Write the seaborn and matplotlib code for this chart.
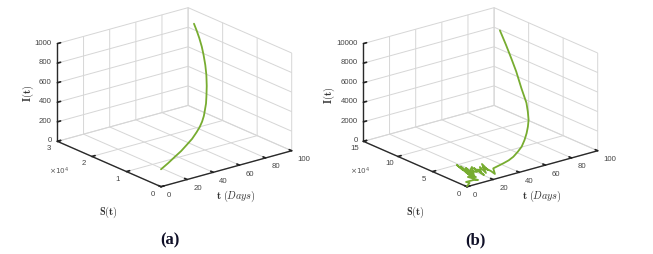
import seaborn as sns
import matplotlib.pyplot as plt
from mpl_toolkits.mplot3d import proj3d

# curve (a)
t_a = [0, 6, 12, 17, 22, 27.5, 33, 37.5, 42, 46, 50, 54, 58, 63, 68, 73, 78, 83.5, 89, 94.5, 100]
s_a = [0, 0.02, 0.05, 0.06, 0.09, 0.14, 0.22, 0.30, 0.40, 0.50, 0.62, 0.74, 0.88, 1.06, 1.26, 1.48, 1.72, 1.98,
       2.26, 2.54, 2.83]
i_a = [178, 216, 255, 293, 332, 367, 401, 425, 449, 477, 506, 538, 572, 635, 699, 747, 796, 820, 844, 853, 862]

# curve (b), noisy at the start
t_b = [0, 2, 4, 5, 9, 10, 10.5, 11, 11.5, 12, 12.5, 13, 13.5, 14, 14.5, 15, 16, 16.5, 17, 18, 18.5, 19, 19.5,
       20, 21, 22, 22.5, 23, 24, 26, 30, 33, 36, 40, 44, 48, 52, 56, 60, 64.5, 69, 75, 81, 87, 93, 100]
s_b = [0, 0, 0.9, 0, 0.1, 1.77, 0.69, 2.25, 1.46, 3.75, 2.96, 3.36, 2.13, 2.82, 1.75, 2.13, 2.61, 1.69, 2.22,
       0.95, 1.93, 1.58, 1.82, 1.04, 1.81, 1.14, 1.96, 0.89, 0.5, 1.12, 0.42, 0.2, 0.1, 0.22, 0.41, 0.76, 1.21,
       1.78, 2.44, 3.4, 4.45, 6.32, 8.2, 10.07, 11.96, 14.16]
i_b = [50, 307, 61, 500, 327, 82, 389, 399, 123, 624, 338, 553, 194, 532, 123, 809, 215, 379, 604, 235, 481,
       328, 737, 348, 993, 553, 583, 481, 266, 573, 1157, 1425, 1709, 2030, 2354, 2765, 3183, 3525, 3869, 4255,
       4657, 5363, 6264, 6847, 7400, 7932]

t_ticks = [0, 20, 40, 60, 80, 100]
s_ticks_a = [0, 1, 2, 3]
s_ticks_b = [0, 5, 10, 15]
i_ticks_a = [0, 200, 400, 600, 800, 1000]
i_ticks_b = [0, 2000, 4000, 6000, 8000, 10000]

GREEN = '#77AC30'
W, H = 653, 254

sns.set_theme(style='white', rc={'mathtext.fontset': 'cm'})
plt.rcParams['font.family'] = ['Liberation Sans', 'DejaVu Sans']

fig = plt.figure(figsize=(W / 100, H / 100), dpi=100, facecolor='white')


def to_px(ax, x, y, z):
    px, py, _ = proj3d.proj_transform(x, y, z, ax.get_proj())
    return ax.transData.transform((px, py))


def label(x, y, s, **kw):
    kw.setdefault('ha', 'center')
    fig.text(x / W, 1 - y / H, s, va='center', **kw)


def panel(rect, ts, ss, iis, sticks, iticks, origin, t_end):
    ax = fig.add_axes(rect, projection='3d', proj_type='ortho', facecolor='none')
    ax.view_init(elev=20.3, azim=-128.4)
    ax.set_box_aspect((1, 1, 0.625))
    ax.plot(ts, ss, iis, color=GREEN, lw=1.3, solid_joinstyle='round')
    ax.set_xlim(0, 100, view_margin=0)
    ax.set_ylim(0, sticks[-1], view_margin=0)
    ax.set_zlim(0, iticks[-1], view_margin=0)
    ax.set_xticks(t_ticks)
    ax.set_yticks(sticks)
    ax.set_zticks(iticks)
    ax.set_xticklabels([])
    ax.set_yticklabels([])
    ax.set_zticklabels([])
    ax.tick_params(color='#222222')
    for axis in (ax.xaxis, ax.yaxis, ax.zaxis):
        axis.set_pane_color((1, 1, 1, 0))
        axis.pane.set_edgecolor('#c4c4c4')
        axis.pane.set_linewidth(0.7)
        axis.line.set_color('#2a2a2a')
        axis.line.set_linewidth(1.0)
        axis._axinfo['grid'].update(color='#d6d6d6', linewidth=0.7)
        axis._axinfo['tick'].update(inward_factor=0.0, outward_factor=0.3)

    # fit the cube to the wanted pixels
    for _ in range(3):
        fig.canvas.draw()
        o = to_px(ax, 0, 0, 0)
        e = to_px(ax, 100, 0, 0)
        k = (t_end[0] - origin[0]) / (e[0] - o[0])
        p = ax.get_position()
        size = p.width * W * k
        cx = (p.x0 + p.width / 2) * W + (origin[0] - o[0])
        cy = (p.y0 + p.height / 2) * H + ((H - origin[1]) - o[1])
        ax.set_position([(cx - size / 2) / W, (cy - size / 2) / H, size / W, size / H])
    fig.canvas.draw()

    # mplot3d keeps resetting tick label transforms, so place them from the projection
    TICK = dict(color='#444444', fontsize=5.6)
    for v in t_ticks:
        px, py = to_px(ax, v, 0, 0)
        label(px + 6, H - py + 9, str(v), ha='left', **TICK)
    for v in sticks:
        px, py = to_px(ax, 0, v, 0)
        label(px - 8.5, H - py + 7.5, str(v), **TICK)
    for v in iticks:
        px, py = to_px(ax, 0, sticks[-1], v)
        label(px - 5.6, H - py - 0.5, str(v), ha='right', **TICK)
    return ax


panel([0.05, 0.05, 0.42, 0.9], t_a, s_a, i_a, s_ticks_a, i_ticks_a, (161, 186.7), (291.7, 150.7))
panel([0.55, 0.05, 0.42, 0.9], t_b, s_b, i_b, s_ticks_b, i_ticks_b, (467, 186.7), (597.7, 150.7))

LAB = dict(color='#333333', fontsize=7.4)
label(28, 93, r'$\mathbf{I}(\mathbf{t})$', rotation=90, **LAB)
label(108, 212, r'$\mathbf{S}(\mathbf{t})$', **LAB)
label(236, 196, r'$\mathbf{t}\ (Days)$', **LAB)
label(59, 171.7, r'$\times 10^4$', color='#555555', fontsize=5.2, math_fontfamily='dejavusans')
label(327 + 2, 95, r'$\mathbf{I}(\mathbf{t})$', rotation=90, **LAB)
label(415, 212, r'$\mathbf{S}(\mathbf{t})$', **LAB)
label(542, 196, r'$\mathbf{t}\ (Days)$', **LAB)
label(360, 171.7, r'$\times 10^4$', color='#555555', fontsize=5.2, math_fontfamily='dejavusans')

CAP = dict(family='Liberation Serif', fontweight='bold', fontsize=12, color='#101028')
label(170, 240.5, '(a)', **CAP)
label(475, 240.5, '(b)', **CAP)

fig.savefig('out.png', dpi=100)
